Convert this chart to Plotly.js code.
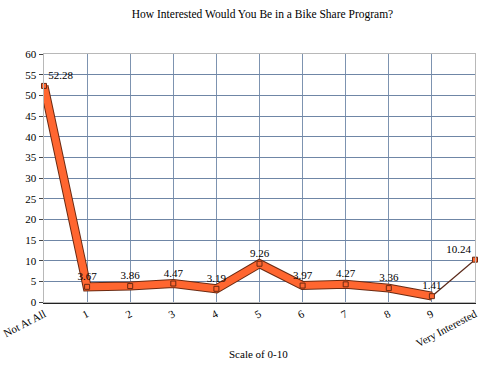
<!DOCTYPE html>
<html>
<head>
<meta charset="utf-8">
<script src="https://cdn.plot.ly/plotly-3.0.1.min.js"></script>
<style>html,body{margin:0;padding:0;background:#fff;}#chart{width:499px;height:366px;}</style>
</head>
<body>
<div id="chart"></div>
<script>
var categories = ["Not At All","1","2","3","4","5","6","7","8","9","Very Interested"];
var values = [52.28,3.67,3.86,4.47,3.19,9.26,3.97,4.27,3.36,1.41,10.24];
var valueLabels = ["52.28","3.67","3.86","4.47","3.19","9.26","3.97","4.27","3.36","1.41","10.24"];
var chartTitle = "How Interested Would You Be in a Bike Share Program?";
var xTitle = "Scale of 0-10";

var serif = "'Liberation Serif', 'Times New Roman', 'DejaVu Serif', serif";
var idx = categories.map(function(_, i){ return i; });
var ribbonX = idx.slice(0, 10), ribbonY = values.slice(0, 10);
var tailX = idx.slice(9), tailY = values.slice(9);
var textPos = idx.map(function(i){ return i === 0 ? "top right" : (i === idx.length-1 ? "top left" : "top center"); });

var traces = [
  {x: [], y: [], xaxis: "x2", yaxis: "y2", type: "scatter", mode: "lines", hoverinfo: "skip", showlegend: false},
  {x: ribbonX, y: ribbonY, type: "scatter", mode: "lines", line: {color: "#6a2a12", width: 9}, hoverinfo: "skip", showlegend: false},
  {x: ribbonX, y: ribbonY, type: "scatter", mode: "lines", line: {color: "#ff6630", width: 7}, hoverinfo: "skip", showlegend: false},
  {x: tailX, y: tailY, type: "scatter", mode: "lines", line: {color: "#5a2818", width: 1.3}, hoverinfo: "skip", showlegend: false},
  {x: idx, y: values, type: "scatter", mode: "markers+text", text: valueLabels, textposition: textPos,
   textfont: {family: serif, size: 11, color: "#000"}, cliponaxis: false,
   marker: {symbol: "square", size: 5, color: "#ff6630", line: {color: "#6a2a12", width: 1}}, showlegend: false}
];

var layout = {
  width: 499, height: 366,
  margin: {l: 44, r: 18, t: 47, b: 64, pad: 0},
  paper_bgcolor: "#fff", plot_bgcolor: "rgba(0,0,0,0)",
  showlegend: false,
  font: {family: serif, size: 11, color: "#000"},
  title: {text: chartTitle, font: {family: serif, size: 11.5, color: "#000"}, x: 0.5, xanchor: "center", xref: "paper", y: 1 - 14/366, yanchor: "middle", yref: "container"},
  xaxis: {domain: [0, 431/437], range: [0, 10], showgrid: false, zeroline: false, showline: true, linecolor: "#222", linewidth: 1.5,
          tickmode: "array", tickvals: idx, ticktext: categories, tickangle: -28, ticks: "", tickfont: {family: serif, size: 11, color: "#000"}},
  yaxis: {domain: [0, 248/255], range: [0, 60], dtick: 5, showgrid: false, zeroline: false, showline: true, linecolor: "#222", linewidth: 1.5,
          ticks: "outside", ticklen: 4, tickcolor: "#444", tickfont: {family: serif, size: 11, color: "#000"}},
  xaxis2: {domain: [6/437, 1], range: [0, 10], overlaying: "x", anchor: "y2", showgrid: true, gridcolor: "#7d93b0", gridwidth: 1,
           dtick: 1, showticklabels: false, ticks: "", zeroline: false, showline: true, mirror: true, linecolor: "#b8b8b8", linewidth: 1},
  yaxis2: {domain: [7/255, 1], range: [0, 60], overlaying: "y", anchor: "x2", showgrid: true, gridcolor: "#6f86a6", gridwidth: 1,
           dtick: 5, showticklabels: false, ticks: "", zeroline: false, showline: true, mirror: true, linecolor: "#b8b8b8", linewidth: 1},
  annotations: [{text: xTitle, xref: "paper", yref: "paper", x: 0.49, y: -52/255, xanchor: "center", yanchor: "middle", showarrow: false,
                 font: {family: serif, size: 11, color: "#000"}}]
};

Plotly.newPlot("chart", traces, layout, {displayModeBar: false, staticPlot: true});
</script>
</body>
</html>
